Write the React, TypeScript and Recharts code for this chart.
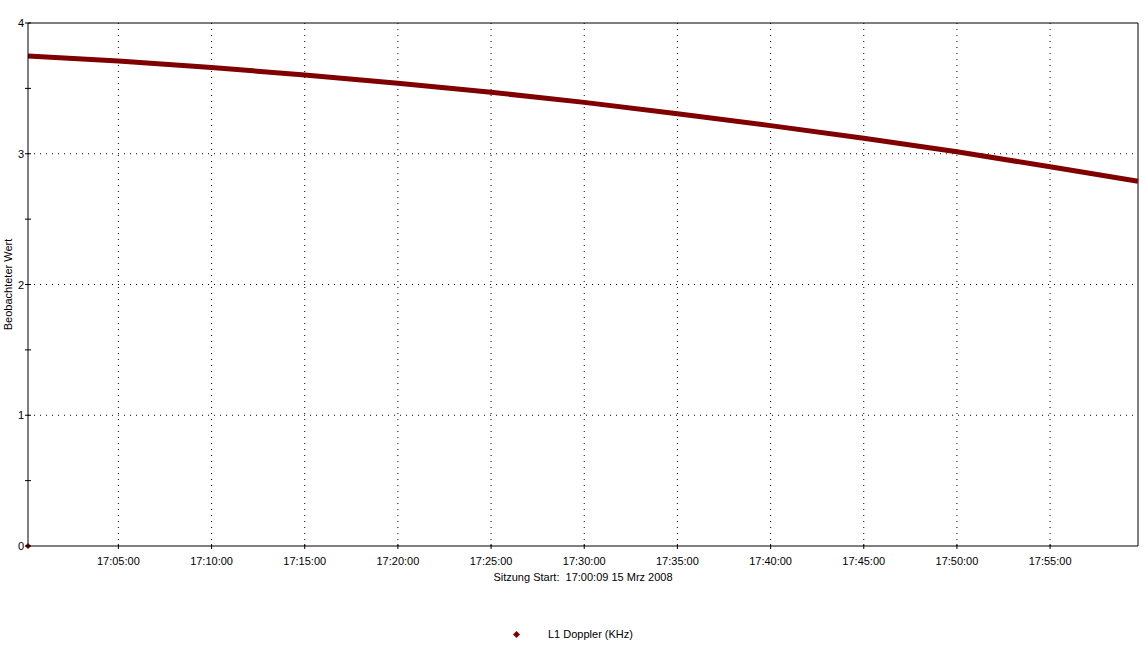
import {
  ComposedChart, Line, Scatter, XAxis, YAxis, CartesianGrid,
  ReferenceLine, Legend, Label,
} from "recharts";

// time in seconds after 17:00:00, values in KHz
const times = [9, 300, 600, 900, 1200, 1500, 1800, 2100, 2400, 2700, 3000, 3300, 3583];
const doppler = [3.748, 3.709, 3.66, 3.602, 3.539, 3.47, 3.393, 3.306, 3.215, 3.118, 3.016, 2.9, 2.79];
const xTicks = [300, 600, 900, 1200, 1500, 1800, 2100, 2400, 2700, 3000, 3300];
const yTicks = [0, 0.5, 1, 1.5, 2, 2.5, 3, 3.5, 4];
const originMark = [{ t: 9, v: 0 }];

const SERIES = "L1 Doppler (KHz)";
const RED = "#800000";
const FONT = "'Liberation Sans', Arial, sans-serif";

const data = times.map((t, i) => ({ t, v: doppler[i] }));

function fmtTime(s: number) {
  const h = 17 + Math.floor(s / 3600);
  const m = Math.floor((s % 3600) / 60);
  const sec = s % 60;
  const p = (n: number) => String(n).padStart(2, "0");
  return `${h}:${p(m)}:${p(sec)}`;
}

function XTick({ x, y, payload }: any) {
  return (
    <g>
      <line x1={x} x2={x} y1={y - 2} y2={y + 3} stroke="#000" />
      <text x={x} y={y + 19} textAnchor="middle" fontSize={11} fontFamily={FONT} fill="#000">
        {fmtTime(payload.value)}
      </text>
    </g>
  );
}

function YTick({ x, y, payload }: any) {
  const v = payload.value;
  return (
    <g>
      <line x1={x - 3} x2={x + 3} y1={y} y2={y} stroke="#000" />
      {Number.isInteger(v) && (
        <text x={x - 4} y={y + 4} textAnchor="end" fontSize={11} fontFamily={FONT} fill="#000">
          {v}
        </text>
      )}
    </g>
  );
}

function YLabel({ viewBox }: any) {
  const cy = viewBox.y + viewBox.height / 2;
  return (
    <text x={12} y={cy} transform={`rotate(-90 12 ${cy})`} textAnchor="middle"
      fontSize={11} fontFamily={FONT} fill="#000">
      Beobachteter Wert
    </text>
  );
}

function LegendBox() {
  return (
    <div style={{ position: "relative", height: 23, fontFamily: FONT, fontSize: 11 }}>
      <svg style={{ position: "absolute", left: 513, top: 9 }} width={7} height={7}>
        <polygon points="3.5,0 7,3.5 3.5,7 0,3.5" fill={RED} />
      </svg>
      <span style={{ position: "absolute", left: 548, top: 6, color: "#000" }}>{SERIES}</span>
    </div>
  );
}

export default function App() {
  return (
    <div style={{ position: "absolute", left: 0, top: 0, width: 1146, height: 645, background: "#fff" }}>
      <ComposedChart width={1146} height={645} data={data}
        margin={{ top: 23, right: 8, bottom: 0, left: 0 }}>
        <CartesianGrid stroke="#000" strokeDasharray="1 5"
          horizontalValues={[1, 2, 3]} verticalValues={xTicks} />
        <XAxis dataKey="t" type="number" domain={[9, 3583]} ticks={xTicks}
          tick={<XTick />} tickLine={false} tickSize={0} tickMargin={0}
          axisLine={{ stroke: "#000" }} height={76} interval={0}>
          <Label value={"Sitzung Start:\u00a0 17:00:09 15 Mrz 2008"} position="insideTop" offset={27}
            fontSize={11} fontFamily={FONT} fill="#000" />
        </XAxis>
        <YAxis type="number" domain={[0, 4]} ticks={yTicks} width={28}
          tick={<YTick />} tickLine={false} tickSize={0} tickMargin={0}
          axisLine={{ stroke: "#000" }} interval={0}>
          <Label content={<YLabel />} />
        </YAxis>
        <ReferenceLine y={4} stroke="#000" />
        <ReferenceLine x={3583} stroke="#000" />
        <Line dataKey="v" name={SERIES} stroke={RED} strokeWidth={5} dot={false}
          type="linear" isAnimationActive={false} />
        <Scatter data={originMark} dataKey="v" fill={RED} isAnimationActive={false}
          shape={(p: any) => (
            <polygon points={`${p.cx},${p.cy - 3} ${p.cx + 3},${p.cy} ${p.cx},${p.cy + 3} ${p.cx - 3},${p.cy}`} fill={RED} />
          )} legendType="none" />
        <Legend verticalAlign="bottom" height={23} content={<LegendBox />}
          wrapperStyle={{ left: 0, width: 1146 }} />
      </ComposedChart>
    </div>
  );
}
